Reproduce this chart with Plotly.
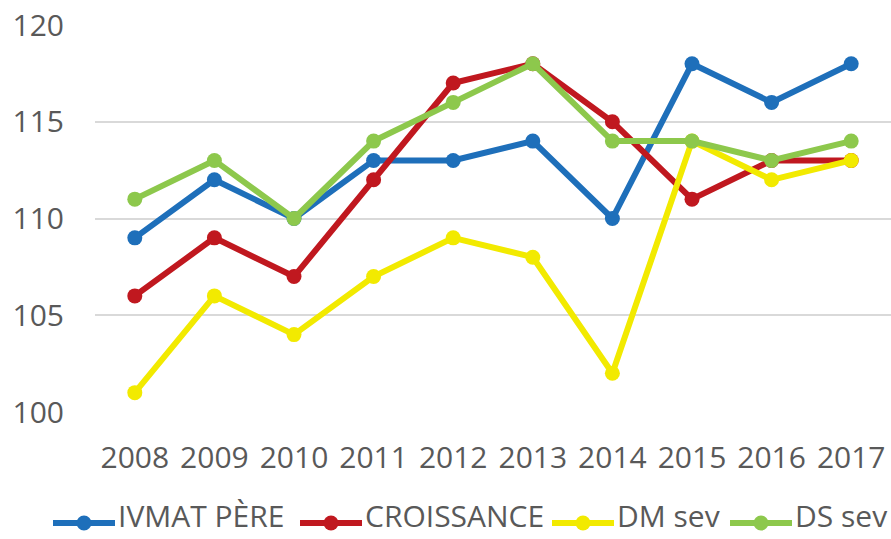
import plotly.graph_objects as go

years = ["2008", "2009", "2010", "2011", "2012", "2013", "2014", "2015", "2016", "2017"]
ivmat_pere = [109, 112, 110, 113, 113, 114, 110, 118, 116, 118]
croissance = [106, 109, 107, 112, 117, 118, 115, 111, 113, 113]
dm_sev = [101, 106, 104, 107, 109, 108, 102, 114, 112, 113]
ds_sev = [111, 113, 110, 114, 116, 118, 114, 114, 113, 114]

series = [
    ("IVMAT PÈRE", ivmat_pere, "#1E6FBA"),
    ("CROISSANCE", croissance, "#C0181F"),
    ("DM sev", dm_sev, "#F2EA00"),
    ("DS sev", ds_sev, "#8DC84C"),
]

W, H = 891, 539
ML, MR, MT, MB = 95, 0, 25, 127
PW, PH = W - ML - MR, H - MT - MB

text_color = "#595959"
font_family = "Open Sans, Liberation Sans, sans-serif"

fig = go.Figure()
for name, vals, color in series:
    fig.add_trace(go.Scatter(
        x=years, y=vals, name=name, mode="lines+markers",
        line=dict(color=color, width=6),
        marker=dict(color=color, size=15),
    ))


def px_x(p):
    return (p - ML) / PW


def px_y(p):
    return (H - MB - p) / PH


# Legend row below the axis: a line sample with a dot, then the series name
legend_row_y = 523
legend_text_bottom = 537
legend_starts = [53, 300, 552, 730]
sample_len = 62
shapes, annotations = [], []
for (name, _, color), x0 in zip(series, legend_starts):
    x1 = x0 + sample_len
    shapes.append(dict(
        type="line", xref="paper", yref="paper",
        x0=px_x(x0), x1=px_x(x1), y0=px_y(legend_row_y), y1=px_y(legend_row_y),
        line=dict(color=color, width=6),
    ))
    cx, r = (x0 + x1) / 2, 7.5
    shapes.append(dict(
        type="circle", xref="paper", yref="paper",
        x0=px_x(cx - r), x1=px_x(cx + r),
        y0=px_y(legend_row_y + r), y1=px_y(legend_row_y - r),
        fillcolor=color, line=dict(width=0),
    ))
    annotations.append(dict(
        text=name, xref="paper", yref="paper",
        x=px_x(x1 + 2), y=px_y(legend_text_bottom),
        xanchor="left", yanchor="bottom", showarrow=False, borderpad=0,
        font=dict(size=30, color=text_color, family=font_family),
    ))

fig.update_layout(
    width=W, height=H,
    margin=dict(l=ML, r=MR, t=MT, b=MB),
    paper_bgcolor="white", plot_bgcolor="white",
    font=dict(family=font_family, size=30, color=text_color),
    showlegend=False,
    shapes=shapes,
    annotations=annotations,
    xaxis=dict(
        type="category", range=[-0.5, 9.5], showgrid=False, showline=False,
        zeroline=False, ticks="", ticklabelstandoff=25,
        tickfont=dict(size=30, color=text_color),
    ),
    yaxis=dict(
        range=[100, 120], dtick=5, tick0=100, showgrid=True,
        gridcolor="#D9D9D9", gridwidth=2, zeroline=False, showline=False,
        ticks="", ticklabelstandoff=30,
        tickfont=dict(size=30, color=text_color),
    ),
)

fig.write_html("out.html")
